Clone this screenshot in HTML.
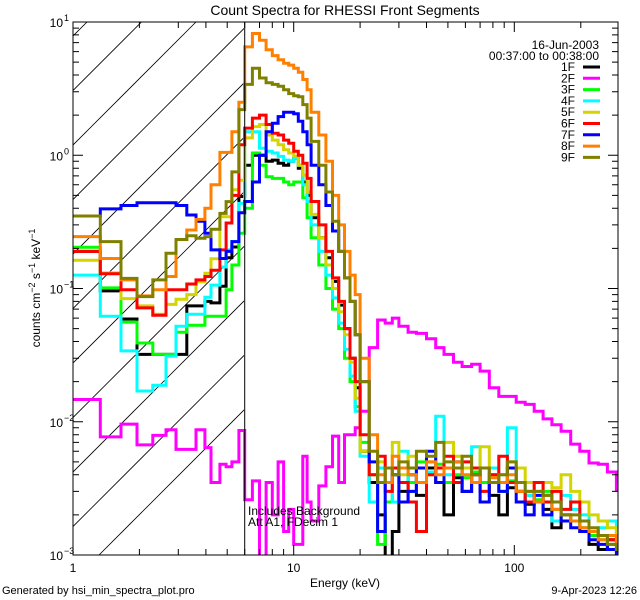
<!DOCTYPE html>
<html><head><meta charset="utf-8">
<style>
html,body{margin:0;padding:0;background:#fff;}
svg{display:block;font-family:"Liberation Sans",sans-serif;}
</style></head>
<body>
<svg id="chart" width="640" height="600" viewBox="0 0 640 600" xmlns="http://www.w3.org/2000/svg">
<defs><clipPath id="plotclip"><rect x="73" y="22" width="545" height="533"/></clipPath>
<clipPath id="hatchclip"><rect x="73" y="22" width="171" height="533"/></clipPath></defs>
<rect width="640" height="600" fill="#fff"/>
<text x="345" y="15" font-size="14" text-anchor="middle">Count Spectra for RHESSI Front Segments</text>
<g id="hatch" clip-path="url(#hatchclip)"></g>
<g id="series" clip-path="url(#plotclip)"></g>
<g id="axes"></g>
<text x="248" y="515" font-size="12">Includes Background</text>
<text x="248" y="526" font-size="12">Att A1, FDecim 1</text>
<text x="345" y="587" font-size="12" text-anchor="middle">Energy (keV)</text>
<text transform="translate(40,288) rotate(-90)" font-size="12" text-anchor="middle">counts cm<tspan baseline-shift="super" font-size="9">−2</tspan> s<tspan baseline-shift="super" font-size="9">−1</tspan> keV<tspan baseline-shift="super" font-size="9">−1</tspan></text>
<text x="2" y="594" font-size="11">Generated by hsi_min_spectra_plot.pro</text>
<text x="637" y="594" font-size="11" text-anchor="end">9-Apr-2023 12:26</text>
<text x="599" y="49" font-size="12" text-anchor="end">16-Jun-2003</text>
<text x="599" y="60" font-size="12" text-anchor="end">00:37:00 to 00:38:00</text>
<g id="legend"></g>
</svg>
<script>
const edges = [1,1.33,1.65,1.95,2.30,2.64,2.93,3.28,3.61,3.96,4.22,4.63,4.94,5.25,5.65,6.0,
 6.5,7,7.5,8,8.5,9,9.5,10,10.5,11,11.5,12,13,14,15,16,17,18,19,20,
 22,24,26,28,30,33,36,40,44,48,53,58,64,70,77,85,93,102,112,123,135,148,163,180,198,218,240,264,290,295];
const seriesNames = ["1F","2F","3F","4F","5F","6F","7F","8F","9F"];
const seriesColors = ["#000000","#ff00ff","#00ff00","#00ffff","#d4d400","#ff0000","#0000ff","#ff8000","#808000"];
const s1F = [0.19,0.096,0.059,0.032,0.032,0.032,0.032,0.074,0.074,0.080,0.078,0.104,0.17,0.205,0.49,
 0.84,1.0,1.0,0.9,0.92,0.87,0.84,0.9,0.95,0.8,0.63,0.5,
 0.34,0.24,0.17,0.113,0.075,0.05,0.03,0.018,
 0.006,0.0035,0.002,0.0009,0.0015,0.003,0.004,0.0028,0.0045,0.0035,0.002,0.0038,0.003,0.0042,0.0035,0.0028,0.002,0.0032,0.003,0.0024,0.0025,0.0022,0.0016,0.002,0.0018,0.0015,0.0012,0.0011,0.0013,0.0012];
const s2F = [0.0147,0.0077,0.0096,0.0067,0.0079,0.0087,0.0062,0.0062,0.0087,0.0064,0.0035,0.0048,0.0046,0.005,0.0086,
 0.0026,0.0036,0.0008,0.0035,0.002,0.005,0.0015,0.0022,0.0012,0.0012,0.0055,0.0025,
 0.0018,0.0033,0.0046,0.0078,0.0035,0.008,0.008,0.009,
 0.012,0.036,0.058,0.055,0.06,0.052,0.047,0.046,0.042,0.036,0.032,0.028,0.026,0.027,0.024,0.018,0.0155,0.0155,0.014,0.0135,0.012,0.0105,0.0095,0.0085,0.0068,0.006,0.0049,0.0048,0.0042,0.0031];
const s3F = [0.204,0.101,0.056,0.039,0.032,0.032,0.047,0.053,0.053,0.062,0.062,0.062,0.098,0.15,0.26,
 0.4,1.04,0.84,0.69,0.67,0.67,0.63,0.6,0.63,0.63,0.48,0.34,
 0.24,0.15,0.1,0.07,0.05,0.03,0.02,0.013,
 0.007,0.004,0.0012,0.0025,0.004,0.0045,0.0035,0.005,0.004,0.0048,0.0035,0.004,0.0038,0.0042,0.0035,0.004,0.003,0.0036,0.003,0.0028,0.0026,0.003,0.0022,0.002,0.0018,0.0016,0.0014,0.0013,0.0012,0.0011];
const s4F = [0.126,0.062,0.034,0.017,0.0188,0.031,0.052,0.064,0.064,0.086,0.106,0.145,0.195,0.225,0.435,
 1.5,1.5,1.13,1.07,1.04,0.98,0.92,0.9,0.95,0.84,0.6,0.45,
 0.3,0.19,0.126,0.085,0.055,0.035,0.022,0.012,
 0.0055,0.0025,0.0045,0.0035,0.0025,0.006,0.003,0.0045,0.0042,0.011,0.004,0.0035,0.0045,0.0065,0.003,0.0045,0.004,0.009,0.0035,0.0028,0.003,0.0025,0.0018,0.0028,0.0022,0.002,0.0015,0.0016,0.0018,0.0013];
const s5F = [0.163,0.131,0.084,0.074,0.064,0.076,0.083,0.090,0.112,0.130,0.167,0.345,0.345,0.55,0.65,
 1.35,1.64,1.7,1.42,1.3,1.2,1.1,1.04,0.98,0.84,0.71,0.53,
 0.36,0.24,0.15,0.1,0.067,0.045,0.028,0.015,
 0.006,0.004,0.005,0.0045,0.007,0.004,0.0055,0.0045,0.005,0.0045,0.007,0.0055,0.0045,0.004,0.0065,0.004,0.0035,0.005,0.0045,0.0035,0.0025,0.0035,0.0032,0.004,0.003,0.0025,0.002,0.0018,0.0016,0.0014];
const s6F = [0.19,0.129,0.098,0.0715,0.063,0.098,0.098,0.108,0.116,0.123,0.137,0.195,0.31,0.5,1.2,
 1.6,1.9,2.0,1.7,1.46,1.42,1.3,1.23,1.07,1.0,0.87,0.67,
 0.45,0.3,0.19,0.12,0.08,0.05,0.03,0.02,
 0.008,0.004,0.0055,0.003,0.0045,0.0035,0.0025,0.0015,0.004,0.0045,0.0055,0.0035,0.005,0.0045,0.003,0.004,0.0055,0.0035,0.003,0.0025,0.0035,0.0025,0.003,0.0022,0.0025,0.0018,0.0015,0.0014,0.0013,0.0012];
const s7F = [0.35,0.396,0.42,0.44,0.44,0.44,0.42,0.356,0.32,0.26,0.195,0.168,0.19,0.225,0.37,
 0.45,0.63,1.0,1.5,1.74,1.95,2.1,2.1,2.05,1.8,1.5,1.2,
 0.84,0.6,0.42,0.27,0.19,0.12,0.08,0.045,
 0.02,0.005,0.0015,0.0035,0.004,0.0025,0.003,0.0045,0.006,0.0035,0.0045,0.005,0.003,0.004,0.0025,0.0035,0.003,0.0045,0.0025,0.002,0.0028,0.002,0.0025,0.0018,0.0016,0.0015,0.0013,0.0012,0.0011,0.001];
const s8F = [0.245,0.168,0.116,0.088,0.098,0.123,0.233,0.275,0.33,0.40,0.6,1.05,1.05,1.5,2.5,
 6.5,8.2,7.3,6.2,5.6,5.2,4.9,4.75,4.5,4.2,3.7,3.1,
 2.1,1.42,0.9,0.5,0.3,0.19,0.126,0.09,
 0.03,0.008,0.004,0.0035,0.0055,0.0045,0.004,0.0035,0.005,0.004,0.0045,0.005,0.004,0.0035,0.0045,0.0038,0.0035,0.004,0.003,0.003,0.0025,0.0028,0.0022,0.002,0.0018,0.0016,0.0015,0.0013,0.0014,0.0012];
const s9F = [0.35,0.225,0.119,0.087,0.116,0.184,0.233,0.249,0.238,0.245,0.278,0.366,0.449,0.75,2.2,
 3.4,4.5,3.8,3.5,3.4,3.3,3.1,2.9,2.8,2.75,2.4,1.9,
 1.27,0.84,0.53,0.32,0.19,0.12,0.08,0.045,
 0.02,0.006,0.0035,0.0045,0.004,0.005,0.0045,0.006,0.0055,0.007,0.005,0.0045,0.0055,0.004,0.0045,0.0035,0.004,0.005,0.0035,0.003,0.003,0.0028,0.0025,0.002,0.002,0.0018,0.0016,0.0014,0.0012,0.0011];
const allSeries = [s1F,s2F,s3F,s4F,s5F,s6F,s7F,s8F,s9F];
const xMajorTicks = [1,10,100];
const xTickLabels = ["1","10","100"];
const yMajorExps = [1,0,-1,-2,-3];
const yTickLabels = ["1","0","−1","−2","−3"];
const attenuatorEdge = 6;

const NS = "http://www.w3.org/2000/svg";
const X0 = 73, X1 = 618, Y0 = 22, Y1 = 555;
const xMin = 1, xMax = 295, yMinExp = -3, yMaxExp = 1;
function xs(e){ return X0 + (Math.log10(e) - Math.log10(xMin)) / (Math.log10(xMax) - Math.log10(xMin)) * (X1 - X0); }
function ys(v){ const l = Math.log10(Math.max(v, 1e-4)); return Y1 - (l - yMinExp) / (yMaxExp - yMinExp) * (Y1 - Y0); }
function mk(tag, attrs){ const el = document.createElementNS(NS, tag); for (const k in attrs) el.setAttribute(k, attrs[k]); return el; }

// hatch
const hatch = document.getElementById('hatch');
for (let c = 654; c > 60; c -= 54.5) {
  const ln = mk('line', {x1: c - 22, y1: 22, x2: c - 555, y2: 555, stroke: '#000', 'stroke-width': 0.8});
  
  
  hatch.appendChild(ln);
}

// series
const sg = document.getElementById('series');
allSeries.forEach((vals, si) => {
  let d = '';
  for (let i = 0; i < vals.length; i++) {
    const y = ys(vals[i]).toFixed(1);
    const xa = xs(edges[i]).toFixed(1), xb = xs(edges[i+1]).toFixed(1);
    d += (i === 0 ? 'M' + xa + ' ' + y : 'V' + y) + 'H' + xb;
  }
  const p = mk('path', {d: d, fill: 'none', stroke: seriesColors[si], 'stroke-width': 3, 'stroke-linejoin': 'miter'});
  
  
  sg.appendChild(p);
});

// axes
const ax = document.getElementById('axes');
const box = mk('rect', {x: X0, y: Y0, width: X1 - X0, height: Y1 - Y0, fill: 'none', stroke: '#000', 'stroke-width': 1});


ax.appendChild(box);
const attLine = mk('line', {x1: xs(attenuatorEdge), y1: Y0, x2: xs(attenuatorEdge), y2: Y1, stroke: '#000', 'stroke-width': 1});


ax.appendChild(attLine);
let td = '';
for (let dec = 1; dec <= 100; dec *= 10) {
  for (let m = 1; m <= 9; m++) {
    const e = dec * m; if (e > xMax) break;
    const x = xs(e).toFixed(1); const L = m === 1 ? 10 : 6;
    td += 'M' + x + ' ' + Y1 + 'v-' + L + 'M' + x + ' ' + Y0 + 'v' + L;
  }
}
for (let ex = yMinExp; ex < yMaxExp + 1; ex++) {
  for (let m = 1; m <= 9; m++) {
    const v = Math.pow(10, ex) * m; if (Math.log10(v) > yMaxExp + 1e-9) break;
    const y = ys(v).toFixed(1); const L = m === 1 ? 10 : 6;
    td += 'M' + X0 + ' ' + y + 'h' + L + 'M' + X1 + ' ' + y + 'h-' + L;
  }
}
const ticks = mk('path', {d: td, stroke: '#000', 'stroke-width': 1, fill: 'none'});


ax.appendChild(ticks);
xMajorTicks.forEach((e, i) => {
  const t = mk('text', {x: xs(e), y: 572, 'font-size': 12, 'text-anchor': 'middle'});
  t.textContent = xTickLabels[i];
  
  
  ax.appendChild(t);
});
yMajorExps.forEach((ex, i) => {
  const t = mk('text', {x: 63, y: ys(Math.pow(10, ex)) + 5, 'font-size': 12, 'text-anchor': 'end'});
  t.textContent = '10';
  
  
  ax.appendChild(t);
  const s = mk('text', {x: 64, y: ys(Math.pow(10, ex)) - 1, 'font-size': 9});
  s.textContent = yTickLabels[i];
  
  
  ax.appendChild(s);
});

// legend
const lg = document.getElementById('legend');
seriesNames.forEach((n, i) => {
  const y = 71 + i * 11.3;
  const t = mk('text', {x: 575, y: y, 'font-size': 12, 'text-anchor': 'end'});
  t.textContent = n;
  
  
  lg.appendChild(t);
  const l = mk('line', {x1: 583, y1: y - 4, x2: 600, y2: y - 4, stroke: seriesColors[i], 'stroke-width': 3});
  
  
  lg.appendChild(l);
});
</script>
</body></html>
